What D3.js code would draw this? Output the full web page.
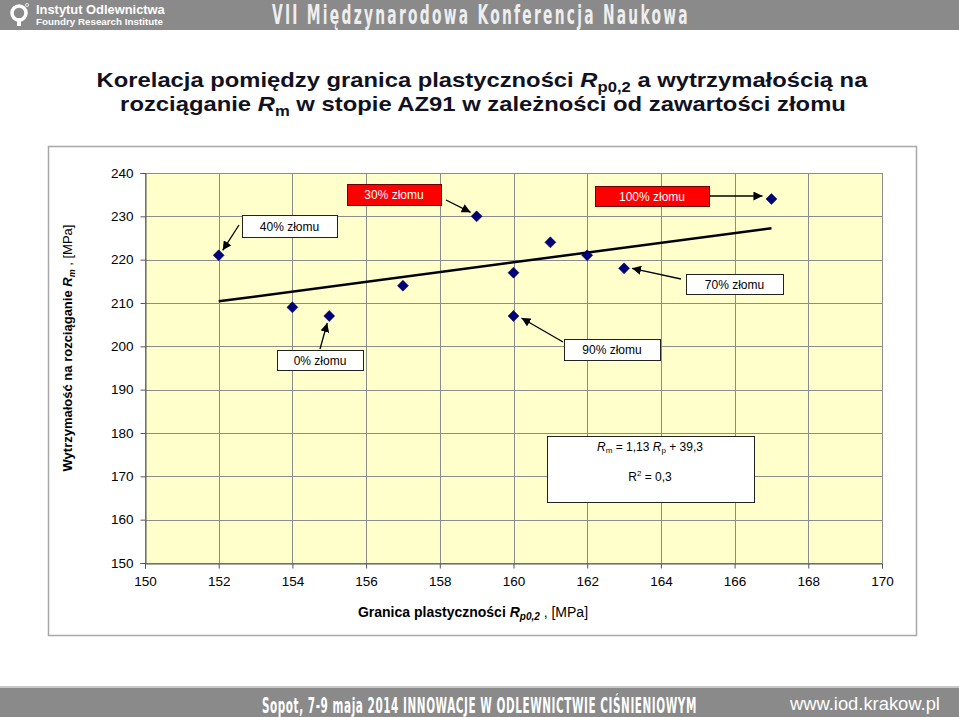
<!DOCTYPE html>
<html><head><meta charset="utf-8">
<script src="https://cdn.jsdelivr.net/npm/d3@7"></script>
<style>body{margin:0;background:#fff}svg{display:block;font-family:'Liberation Sans',Arial,sans-serif}</style>
</head><body><svg id="c" width="959" height="717"></svg>
<script>
// ---- data ----
const rp = [152, 154, 155, 157, 159, 160, 160, 161, 162, 163, 167];
const rm = [221, 209, 207, 214, 230, 217, 207, 224, 221, 218, 234];
const xTicks = [150,152,154,156,158,160,162,164,166,168,170];
const yTicks = [150,160,170,180,190,200,210,220,230,240];
const annLabels = ["40% złomu","30% złomu","100% złomu","70% złomu","90% złomu","0% złomu"];
const annPoint  = [0, 4, 10, 9, 6, 2];
const annRed    = [false, true, true, false, false, false];

const svg = d3.select("#c");
const W = 959, H = 717;

// scale a text horizontally so it spans exactly targetW (about its anchor x)
function fit(sel, targetW) {
  const node = sel.node();
  const w = node.getComputedTextLength();
  const ax = +sel.attr("x");
  const k = targetW / w;
  sel.attr("transform", `translate(${ax},0) scale(${k},1) translate(${-ax},0)`);
  return sel;
}

// header
svg.append("rect").attr("x",0).attr("y",0).attr("width",W).attr("height",30).attr("fill","#8a8a8a");
const logo = svg.append("g");
logo.append("circle").attr("cx",19).attr("cy",13).attr("r",7).attr("fill","none").attr("stroke","#fff").attr("stroke-width",3.5);
logo.append("rect").attr("x",17).attr("y",18).attr("width",4).attr("height",8).attr("fill","#fff");
logo.append("circle").attr("cx",27).attr("cy",5).attr("r",1.5).attr("fill","none").attr("stroke","#fff").attr("stroke-width",0.8);
fit(svg.append("text").attr("x",36).attr("y",14).attr("fill","#fff").attr("font-size",12).attr("font-weight","bold")
  .text("Instytut Odlewnictwa"), 129);
fit(svg.append("text").attr("x",36).attr("y",25).attr("fill","#fff").attr("font-size",9).attr("font-weight","bold")
  .text("Foundry Research Institute"), 127);
fit(svg.append("text").attr("x",272).attr("y",24).attr("fill","#eeeeee").attr("font-size",27).attr("font-weight","bold")
  .attr("font-family","'DejaVu Sans Condensed','Liberation Sans Narrow',sans-serif").attr("letter-spacing",4)
  .text("VII Międzynarodowa Konferencja  Naukowa"), 418);

// footer
svg.append("rect").attr("x",0).attr("y",686).attr("width",W).attr("height",2).attr("fill","#c8c8c8");
svg.append("rect").attr("x",0).attr("y",688).attr("width",W).attr("height",29).attr("fill","#8a8a8a");
fit(svg.append("text").attr("x",262).attr("y",713).attr("fill","#fff").attr("font-size",21).attr("font-weight","bold")
  .attr("font-family","'DejaVu Sans Condensed','Liberation Sans Narrow',sans-serif").attr("letter-spacing",1)
  .text("Sopot, 7-9 maja 2014 INNOWACJE W ODLEWNICTWIE CIŚNIENIOWYM"), 435);
fit(svg.append("text").attr("x",790).attr("y",710).attr("fill","#fff").attr("font-size",18)
  .text("www.iod.krakow.pl"), 150);

// title
const tc = "#111122";
const t1 = svg.append("text").attr("x",482).attr("y",87).attr("text-anchor","middle").attr("font-size",20).attr("font-weight","bold").attr("fill",tc);
t1.append("tspan").text("Korelacja pomiędzy granica plastyczności ");
t1.append("tspan").attr("font-style","italic").text("R");
t1.append("tspan").attr("font-size",14).attr("dy",5).text("p0,2");
t1.append("tspan").attr("dy",-5).text(" a wytrzymałością na");
fit(t1, 771);
const t2 = svg.append("text").attr("x",483).attr("y",111).attr("text-anchor","middle").attr("font-size",20).attr("font-weight","bold").attr("fill",tc);
t2.append("tspan").text("rozciąganie ");
t2.append("tspan").attr("font-style","italic").text("R");
t2.append("tspan").attr("font-size",14).attr("dy",5).text("m");
t2.append("tspan").attr("dy",-5).text(" w stopie AZ91 w zależności od zawartości złomu");
fit(t2, 726);

// chart box
svg.append("rect").attr("x",48.5).attr("y",146.5).attr("width",868).attr("height",489).attr("fill","#fff").attr("stroke","#a8a8a8").attr("stroke-width",1.5);

const x = d3.scaleLinear().domain([150,170]).range([145,882]);
const y = d3.scaleLinear().domain([150,240]).range([563,173]);

svg.append("rect").attr("x",x(150)).attr("y",y(240)).attr("width",x(170)-x(150)).attr("height",y(150)-y(240)).attr("fill","#ffffcc");
const grid = svg.append("g").attr("stroke","#8c8c8c").attr("stroke-width",1);
grid.selectAll(".vx").data(xTicks).join("line").attr("x1",d=>Math.round(x(d))+0.5).attr("x2",d=>Math.round(x(d))+0.5).attr("y1",y(240)).attr("y2",y(150));
grid.selectAll(".hy").data(yTicks).join("line").attr("y1",d=>Math.round(y(d))+0.5).attr("y2",d=>Math.round(y(d))+0.5).attr("x1",x(150)).attr("x2",x(170));

// axes
const xa = svg.append("g").attr("transform",`translate(0,${Math.round(y(150))+0.5})`)
  .call(d3.axisBottom(x).tickValues(xTicks).tickSize(5).tickFormat(d3.format("d")));
xa.select(".domain").attr("stroke","#555");
xa.selectAll(".tick line").attr("stroke","#555");
xa.selectAll("text").attr("font-size",13.5).attr("fill","#000").attr("dy","1.05em").attr("font-family","'Liberation Sans',Arial,sans-serif");
const ya = svg.append("g").attr("transform",`translate(${Math.round(x(150))+0.5},0)`)
  .call(d3.axisLeft(y).tickValues(yTicks).tickSize(5).tickFormat(d3.format("d")));
ya.select(".domain").attr("stroke","#555");
ya.selectAll(".tick line").attr("stroke","#555");
ya.selectAll("text").attr("font-size",13.5).attr("fill","#000").attr("x",-12).attr("font-family","'Liberation Sans',Arial,sans-serif");

// axis labels
const xl = svg.append("text").attr("x",473).attr("y",617).attr("text-anchor","middle").attr("font-size",14).attr("fill","#000");
xl.append("tspan").attr("font-weight","bold").text("Granica plastyczności  ");
xl.append("tspan").attr("font-weight","bold").attr("font-style","italic").text("R");
xl.append("tspan").attr("font-weight","bold").attr("font-style","italic").attr("font-size",10).attr("dy",3).text("p0,2");
xl.append("tspan").attr("dy",-3).text(" , [MPa]");
const yl = svg.append("text").attr("transform","translate(72,348) rotate(-90)").attr("text-anchor","middle").attr("font-size",13).attr("fill","#000");
yl.append("tspan").attr("font-weight","bold").text("Wytrzymałość na rozciąganie  ");
yl.append("tspan").attr("font-weight","bold").attr("font-style","italic").text("R");
yl.append("tspan").attr("font-weight","bold").attr("font-style","italic").attr("font-size",9).attr("dy",3).text("m");
yl.append("tspan").attr("dy",-3).text(" , [MPa]");

// regression
const mx = d3.mean(rp), my = d3.mean(rm);
const slope = d3.sum(rp.map((v,i)=>(v-mx)*(rm[i]-my))) / d3.sum(rp.map(v=>(v-mx)*(v-mx)));
const icpt = my - slope*mx;
const xmin = d3.min(rp), xmax = d3.max(rp);
svg.append("line").attr("x1",x(xmin)).attr("y1",y(slope*xmin+icpt)).attr("x2",x(xmax)).attr("y2",y(slope*xmax+icpt))
  .attr("stroke","#000").attr("stroke-width",2.5);

// points
svg.selectAll(".pt").data(rp).join("path")
  .attr("d","M0,-5.5L5.5,0L0,5.5L-5.5,0Z")
  .attr("transform",(d,i)=>`translate(${x(d)},${y(rm[i])})`)
  .attr("fill","#00007a").attr("stroke","#00005a").attr("stroke-width",0.5);

// annotations (boxes: layout only)
const boxes = [
  {x:242,y:215,w:95,h:22, sx:239,sy:225, off:[4,-5]},
  {x:347,y:184,w:94,h:21, sx:446,sy:200, off:[-6,-4]},
  {x:595,y:186,w:114,h:20, sx:710,sy:196, off:[-9,-3]},
  {x:686,y:274,w:97,h:20, sx:681,sy:279, off:[8,0]},
  {x:564,y:339,w:96,h:21, sx:563,sy:342, off:[8,2]},
  {x:277,y:350,w:86,h:20, sx:320,sy:349, off:[-2,7]}
];
const defs = svg.append("defs");
defs.append("marker").attr("id","ah").attr("viewBox","0 0 10 10").attr("refX",10).attr("refY",5)
  .attr("markerWidth",9).attr("markerHeight",9).attr("markerUnits","userSpaceOnUse").attr("orient","auto")
  .append("path").attr("d","M0,0L10,5L0,10Z").attr("fill","#000");
annLabels.forEach((lab,i)=>{
  const b = boxes[i], p = annPoint[i];
  const px = x(rp[p]) + b.off[0], py = y(rm[p]) + b.off[1];
  svg.append("line").attr("x1",b.sx).attr("y1",b.sy).attr("x2",px).attr("y2",py)
    .attr("stroke","#000").attr("stroke-width",1.3).attr("marker-end","url(#ah)");
  svg.append("rect").attr("x",b.x+0.5).attr("y",b.y+0.5).attr("width",b.w).attr("height",b.h)
    .attr("fill",annRed[i]?"#ff0000":"#fff").attr("stroke",annRed[i]?"#6a0000":"#222").attr("stroke-width",1);
  svg.append("text").attr("x",b.x+b.w/2).attr("y",b.y+b.h/2+4.5).attr("text-anchor","middle").attr("font-size",12)
    .attr("fill",annRed[i]?"#fff":"#000").text(lab);
});

// equation box
svg.append("rect").attr("x",547.5).attr("y",436.5).attr("width",207).attr("height",66).attr("fill","#fff").attr("stroke","#222");
const fmt = v => v.toFixed(2).replace(".",",");
const eq = svg.append("text").attr("x",650).attr("y",451).attr("text-anchor","middle").attr("font-size",12).attr("fill","#000");
eq.append("tspan").attr("font-style","italic").text("R");
eq.append("tspan").attr("font-size",8).attr("dy",2).text("m");
eq.append("tspan").attr("dy",-2).text(" = " + fmt(slope) + " ");
eq.append("tspan").attr("font-style","italic").text("R");
eq.append("tspan").attr("font-size",8).attr("dy",2).text("p");
eq.append("tspan").attr("dy",-2).text(" + " + (Math.round(icpt*10)/10).toFixed(1).replace(".",","));
const r2 = svg.append("text").attr("x",650).attr("y",481).attr("text-anchor","middle").attr("font-size",12).attr("fill","#000");
r2.append("tspan").text("R");
r2.append("tspan").attr("font-size",8).attr("dy",-5).text("2");
r2.append("tspan").attr("dy",5).text(" = 0,3");
</script></body></html>
